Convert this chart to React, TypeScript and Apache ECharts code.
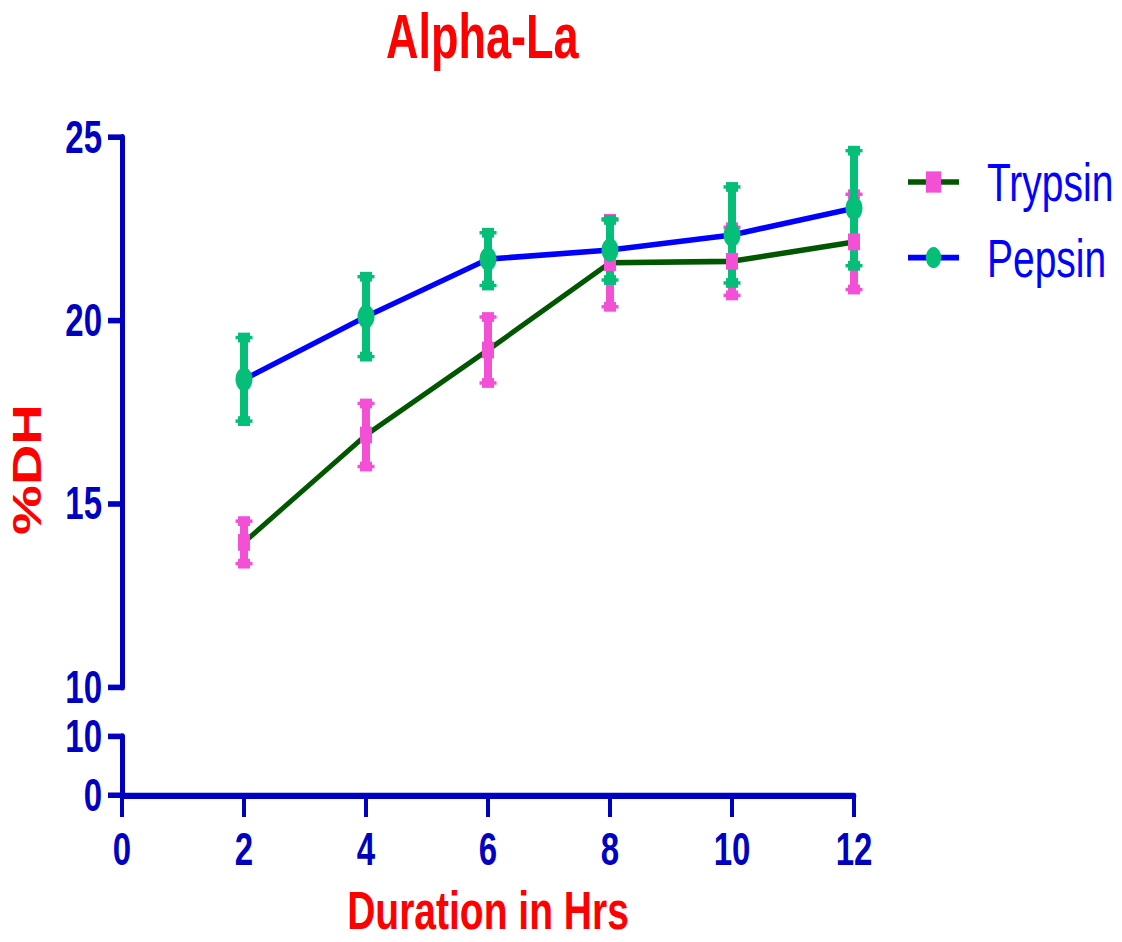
import React, { useEffect, useRef } from "react";
import * as echarts from "echarts";

// ---- data ----
const hours = [2, 4, 6, 8, 10, 12];
const trypsinMean = [13.95, 16.88, 19.2, 21.58, 21.62, 22.15];
const trypsinErr = [0.58, 0.86, 0.9, 1.2, 0.93, 1.3];
const pepsinMean = [18.4, 20.11, 21.68, 21.93, 22.34, 23.07];
const pepsinErr = [1.14, 1.09, 0.72, 0.82, 1.31, 1.57];
const upperTicks = { min: 10, max: 25, interval: 5 };
const lowerTicks = { min: 0, max: 10, interval: 10 };
const xTicks = { min: 0, max: 12, interval: 2 };

const S = 1.4; // vertical stretch of the reference picture
const W = 1122;
const H = 942 / S;
const FONT = "'Liberation Sans', Arial, sans-serif";
const AXIS = "#0000C0";
const RED = "#FF0000";
const PINK = "#F350D6";
const GREEN = "#05BE78";
const DKGREEN = "#005700";
const BLUE = "#0000FF";

function errRender(color: string) {
  return (params: any, api: any) => {
    const x = api.value(0);
    const lo = api.value(1);
    const hi = api.value(2);
    const t = api.coord([x, hi]);
    const b = api.coord([x, lo]);
    const cap = (p: number[]) => [
      { type: "rect", shape: { x: p[0] - 6, y: p[1] - 3.5, width: 12, height: 7 }, style: { fill: color } },
      { type: "line", shape: { x1: p[0] - 8.5, y1: p[1], x2: p[0] + 8.5, y2: p[1] }, style: { stroke: color, lineWidth: 2.5 } },
    ];
    return {
      type: "group",
      children: [
        { type: "line", shape: { x1: t[0], y1: t[1], x2: b[0], y2: b[1] }, style: { stroke: color, lineWidth: 8 } },
        ...cap(t),
        ...cap(b),
      ],
    };
  };
}

export default function App() {
  const ref = useRef<HTMLDivElement>(null);
  useEffect(() => {
    if (!ref.current) return;
    const chart = echarts.init(ref.current, null, { renderer: "svg" });
    const axisLabel = { color: AXIS, fontWeight: "bold", fontSize: 33, fontFamily: FONT, lineHeight: 33 };
    chart.setOption({
      animation: false,
      backgroundColor: "#fff",
      textStyle: { fontFamily: FONT },
      title: {
        text: "Alpha-La",
        left: 386,
        top: 3.5,
        padding: 0,
        textStyle: { color: RED, fontWeight: "bold", fontSize: 45, lineHeight: 45, fontFamily: FONT },
      },
      legend: {
        orient: "vertical",
        left: 906,
        top: 110,
        padding: 0,
        itemWidth: 51,
        itemHeight: 19,
        itemGap: 14,
        data: ["Trypsin", "Pepsin"],
        lineStyle: { width: 4 },
        textStyle: { color: BLUE, fontSize: 39, lineHeight: 40, fontFamily: FONT, padding: [0, 0, 0, 23] },
      },
      grid: [
        { left: 122, width: 732, top: 98.2, height: 392.6, outerBoundsMode: "none", containLabel: false },
        { left: 122, width: 732, top: 526.2, height: 41.9, outerBoundsMode: "none", containLabel: false },
      ],
      xAxis: [
        { type: "value", gridIndex: 0, ...xTicks, show: false },
        {
          type: "value",
          gridIndex: 1,
          ...xTicks,
          name: "Duration in Hrs",
          nameLocation: "middle",
          nameGap: 62.5,
          nameTextStyle: { color: RED, fontWeight: "bold", fontSize: 39, lineHeight: 39, fontFamily: FONT },
          axisLine: { lineStyle: { color: AXIS, width: 4.5 } },
          axisTick: { length: 15.5, lineStyle: { color: AXIS, width: 4 } },
          axisLabel: { ...axisLabel, margin: 22.5 },
          splitLine: { show: false },
        },
      ],
      yAxis: [
        {
          type: "value",
          gridIndex: 0,
          ...upperTicks,
          axisLine: { show: true, lineStyle: { color: AXIS, width: 5 } },
          axisTick: { show: true, length: 14, lineStyle: { color: AXIS, width: 4 } },
          axisLabel: { ...axisLabel, margin: 20 },
          splitLine: { show: false },
        },
        {
          type: "value",
          gridIndex: 1,
          ...lowerTicks,
          axisLine: { show: true, lineStyle: { color: AXIS, width: 5 } },
          axisTick: { show: true, length: 14, lineStyle: { color: AXIS, width: 4 } },
          axisLabel: { ...axisLabel, margin: 20 },
          splitLine: { show: false },
        },
      ],
      graphic: [
        {
          type: "text",
          x: 27,
          y: 335.4,
          rotation: Math.PI / 2,
          style: {
            text: "%DH",
            fill: RED,
            font: `bold 40px ${FONT}`,
            align: "center",
            verticalAlign: "middle",
          },
        },
      ],
      series: [
        {
          name: "Trypsin",
          type: "line",
          xAxisIndex: 0,
          yAxisIndex: 0,
          data: hours.map((h, i) => [h, trypsinMean[i]]),
          symbol: "rect",
          symbolSize: 12,
          itemStyle: { color: PINK },
          lineStyle: { color: DKGREEN, width: 4 },
        },
        {
          name: "Trypsin SEM",
          type: "custom",
          xAxisIndex: 0,
          yAxisIndex: 0,
          data: hours.map((h, i) => [h, trypsinMean[i] - trypsinErr[i], trypsinMean[i] + trypsinErr[i]]),
          encode: { x: 0, y: [1, 2] },
          renderItem: errRender(PINK),
        },
        {
          name: "Pepsin",
          type: "line",
          xAxisIndex: 0,
          yAxisIndex: 0,
          data: hours.map((h, i) => [h, pepsinMean[i]]),
          symbol: "circle",
          symbolSize: 17,
          itemStyle: { color: GREEN },
          lineStyle: { color: BLUE, width: 4 },
        },
        {
          name: "Pepsin SEM",
          type: "custom",
          xAxisIndex: 0,
          yAxisIndex: 0,
          data: hours.map((h, i) => [h, pepsinMean[i] - pepsinErr[i], pepsinMean[i] + pepsinErr[i]]),
          encode: { x: 0, y: [1, 2] },
          renderItem: errRender(GREEN),
        },
      ],
    });
    return () => chart.dispose();
  }, []);
  return (
    <div
      ref={ref}
      style={{
        position: "absolute",
        left: 0,
        top: 0,
        width: W,
        height: H,
        transform: `scaleY(${S})`,
        transformOrigin: "0 0",
      }}
    />
  );
}
